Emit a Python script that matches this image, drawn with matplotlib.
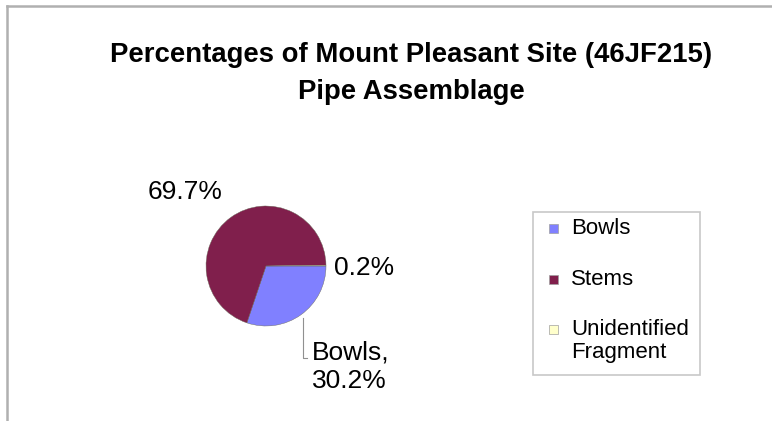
import numpy as np
import matplotlib
matplotlib.use("Agg")
import matplotlib.pyplot as plt
from matplotlib.lines import Line2D
from matplotlib.patches import Rectangle

# -------------------------
# DATA
# -------------------------
categories = ["Bowls", "Stems", "Unidentified\nFragment"]
percentages = [30.2, 69.7, 0.2]
colors = ["#8080ff", "#801f4c", "#ffffcc"]
title_lines = ["Percentages of Mount Pleasant Site (46JF215)", "Pipe Assemblage"]

plt.rcParams['font.family'] = ['Liberation Sans', 'DejaVu Sans']

W, H = 772, 421
fig = plt.figure(figsize=(W / 100, H / 100), dpi=100)


def fx(px):
    return px / W


def fy(py):
    return 1 - py / H


# chart frame (top and left edges only visible)
fig.add_artist(Line2D([fx(7), fx(7)], [0, fy(6)], color="#b0b0b0", lw=1.8))
fig.add_artist(Line2D([fx(7), 1], [fy(6), fy(6)], color="#b0b0b0", lw=1.8))

# title
fig.text(fx(411), fy(55), title_lines[0], ha="center", va="center",
         fontsize=19.8, fontweight="bold")
fig.text(fx(411), fy(92), title_lines[1], ha="center", va="center",
         fontsize=19.8, fontweight="bold")

# -------------------------
# PIE
# -------------------------
cx, cy, r = 266, 266, 60
ax = fig.add_axes([fx(cx - r), fy(cy + r), 2 * r / W, 2 * r / H])
wedges, _ = ax.pie(percentages, colors=colors, startangle=0, counterclock=False,
                   radius=1, wedgeprops=dict(edgecolor="#6a6a5a", linewidth=0.3))
ax.set_xlim(-1, 1)
ax.set_ylim(-1, 1)
ax.set_aspect("auto")
ax.axis("off")

# data labels
lab_fs = 19
ax.text(-1.35, 1.23, f"{percentages[1]}%", ha="center", va="center", fontsize=lab_fs)
ax.text(1.13, -0.04, f"{percentages[2]}%", ha="left", va="center", fontsize=lab_fs)
ax.text(0.76, -1.68, f"{categories[0]},\n{percentages[0]}%", ha="left", va="center",
        fontsize=lab_fs, linespacing=1.2)

# leader line for Bowls
w = wedges[0]
mid = np.deg2rad((w.theta1 + w.theta2) / 2)
x0, y0 = np.cos(mid) * 1.06, np.sin(mid) * 1.06
ax.plot([x0, x0, x0 + 0.06], [y0, -1.53, -1.53], color="#909090", lw=0.8, clip_on=False)

# -------------------------
# LEGEND (drawn by hand so the marker sits on the first text line)
# -------------------------
fig.add_artist(Rectangle((fx(533), fy(375)), fx(700) - fx(533), fy(212) - fy(375),
                         transform=fig.transFigure, fill=False,
                         edgecolor="#c8c8c8", lw=1.2))
leg_y = [228, 279, 329]
for name, c, py in zip(categories, colors, leg_y):
    fig.add_artist(Rectangle((fx(549), fy(py + 5)), 9 / W, 9 / H,
                             transform=fig.transFigure, facecolor=c,
                             edgecolor="#a0a0a0", lw=0.5))
    fig.text(fx(571), fy(py - 10), name, ha="left", va="top", fontsize=16,
             linespacing=1.15)

fig.savefig("out.png", dpi=100)
